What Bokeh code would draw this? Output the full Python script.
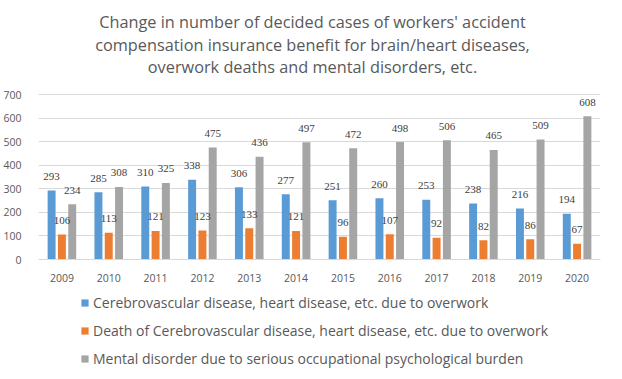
from bokeh.plotting import figure
from bokeh.models import ColumnDataSource, FactorRange, Range1d, LabelSet, Label, Legend, LegendItem
from bokeh.transform import dodge
from bokeh.embed import file_html
from bokeh.resources import INLINE

years = ["2009", "2010", "2011", "2012", "2013", "2014", "2015", "2016", "2017", "2018", "2019", "2020"]
overwork = [293, 285, 310, 338, 306, 277, 251, 260, 253, 238, 216, 194]
deaths = [106, 113, 121, 123, 133, 121, 96, 107, 92, 82, 86, 67]
mental = [234, 308, 325, 475, 436, 497, 472, 498, 506, 465, 509, 608]
series_names = [
    "Cerebrovascular disease, heart disease, etc. due to overwork",
    "Death of Cerebrovascular disease, heart disease, etc. due to overwork",
    "Mental disorder due to serious occupational psychological burden",
]
title_lines = [
    "Change in number of decided cases of workers' accident",
    "compensation insurance benefit for brain/heart diseases,",
    "overwork deaths and mental disorders, etc.",
]
y_ticks = [0, 100, 200, 300, 400, 500, 600, 700]

colors = ["#5b9bd5", "#ed7d31", "#a5a5a5"]
FONT = "Open Sans"

# layout (pixels inside the figure)
W, H = 606, 370
LEFT, RIGHT = 30, 6
Y0_PX, Y700_PX = 259, 94          # pixel rows of value 0 and value 700
ppu = (Y0_PX - Y700_PX) / 700.0   # pixels per unit
y_lo = -(H - Y0_PX) / ppu
y_hi = 700 + Y700_PX / ppu

def px_to_y(py):
    return (Y0_PX - py) / ppu

src = ColumnDataSource(dict(
    year=years,
    overwork=overwork, deaths=deaths, mental=mental,
    overwork_t=[str(v) for v in overwork],
    deaths_t=[str(v) for v in deaths],
    mental_t=[str(v) for v in mental],
))

p = figure(x_range=FactorRange(*years), y_range=Range1d(y_lo, y_hi),
           width=W, height=H,
           min_border_left=LEFT, min_border_right=RIGHT, min_border_top=0, min_border_bottom=0,
           output_backend="svg", toolbar_location=None)
p.outline_line_color = None
p.xgrid.grid_line_color = None
p.ygrid.grid_line_color = "#d9d9d9"
p.ygrid.ticker = y_ticks
p.yaxis.ticker = y_ticks
for ax in (p.xaxis, p.yaxis):
    ax.major_tick_line_color = None
    ax.minor_tick_line_color = None
    ax.major_label_text_font = FONT
    ax.major_label_text_font_size = "10.5px"
    ax.major_label_text_color = "#595959"
p.yaxis.axis_line_color = None
p.xaxis.axis_line_color = "#d9d9d9"
p.xaxis.fixed_location = 0
p.yaxis.major_label_standoff = 11
p.xaxis.major_label_standoff = 8

offsets = [-0.22, 0.0, 0.22]
fields = ["overwork", "deaths", "mental"]
renderers = []
for f, off, c in zip(fields, offsets, colors):
    r = p.vbar(x=dodge("year", off, range=p.x_range), top=f, width=0.17, source=src,
               fill_color=c, line_color=None)
    renderers.append(r)
    p.add_layout(LabelSet(x=dodge("year", off, range=p.x_range), y=f, text=f + "_t", source=src,
                          y_offset=14, text_align="center", text_baseline="middle",
                          text_font=FONT, text_font_size="11px", text_color="#404040"))

legend = Legend(items=[LegendItem(label=n, renderers=[r]) for n, r in zip(series_names, renderers)],
                location=(42, 2), orientation="vertical",
                glyph_width=9, glyph_height=9, label_standoff=4, label_height=18, spacing=9,
                padding=0, margin=0, border_line_color=None, background_fill_alpha=0,
                label_text_font=FONT, label_text_font_size="14px", label_text_color="#595959")
p.add_layout(legend)

title_rows_px = [21, 44, 66]
for line, py in zip(title_lines, title_rows_px):
    p.add_layout(Label(x=274, x_units="screen", y=px_to_y(py), text=line,
                       text_align="center", text_baseline="middle",
                       text_font=FONT, text_font_size="16.3px", text_color="#595959"))

open("out.html", "w").write(file_html(p, INLINE))
